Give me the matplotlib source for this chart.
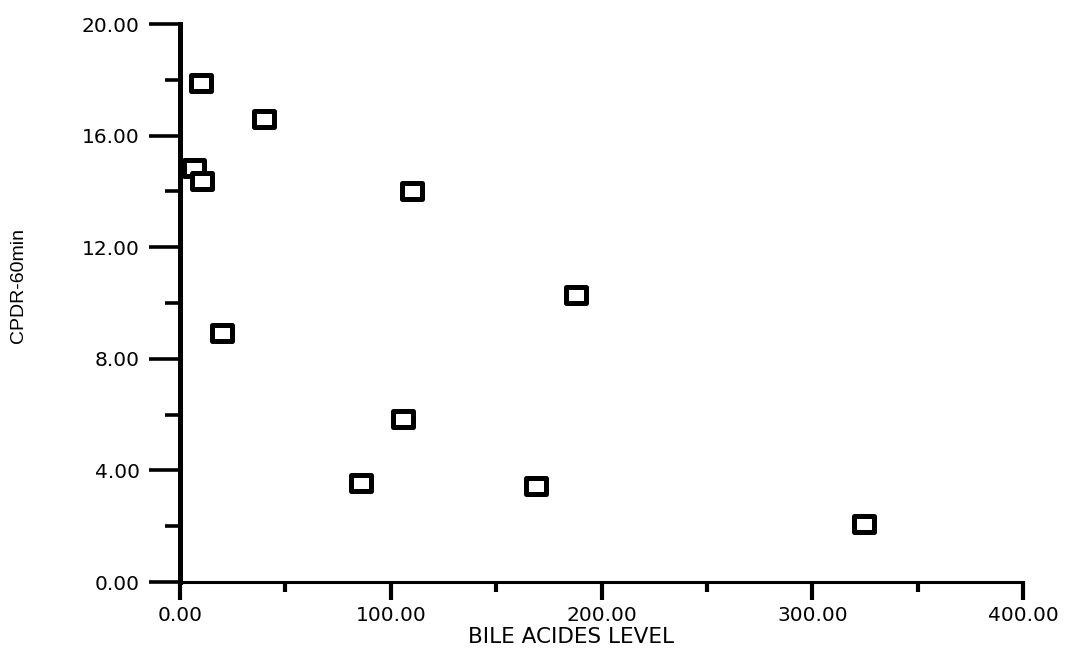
import matplotlib
matplotlib.use("Agg")
import matplotlib.pyplot as plt
from matplotlib.path import Path
from matplotlib.markers import MarkerStyle

# values
bile_acids = [10, 40, 6.6, 10.4, 110, 188, 20, 106, 86, 169, 324.5]
cpdr_60min = [17.9, 16.6, 14.84, 14.37, 14.0, 10.3, 8.92, 5.84, 3.55, 3.44, 2.08]

x_ticks = [0, 100, 200, 300, 400]
x_minor = [50, 150, 250, 350]
y_ticks = [0, 4, 8, 12, 16, 20]
y_minor = [2, 6, 10, 14, 18]

plt.rcParams['font.family'] = ['DejaVu Sans']

# wide open box marker, sharp corners
box = Path([(-1, -0.74), (1, -0.74), (1, 0.74), (-1, 0.74), (-1, -0.74)],
           [Path.MOVETO, Path.LINETO, Path.LINETO, Path.LINETO, Path.CLOSEPOLY])
box_marker = MarkerStyle(box, joinstyle='miter')

fig = plt.figure(figsize=(10.65, 6.49), dpi=100)
ax = fig.add_axes([0.169, 0.1032, 0.7916, 0.8598])

ax.plot(bile_acids, cpdr_60min, linestyle='none', marker=box_marker, markersize=15,
        markerfacecolor='white', markeredgecolor='black', markeredgewidth=3.6,
        clip_on=False, zorder=3)

ax.set_xlim(0, 400)
ax.set_ylim(0, 20)

ax.spines['top'].set_visible(False)
ax.spines['right'].set_visible(False)
ax.spines['left'].set_linewidth(3.6)
ax.spines['bottom'].set_linewidth(2.2)

ax.set_xticks(x_ticks)
ax.set_xticks(x_minor, minor=True)
ax.set_yticks(y_ticks)
ax.set_yticks(y_minor, minor=True)
ax.set_xticklabels(['%.2f' % v for v in x_ticks])
ax.set_yticklabels(['%.2f' % v for v in y_ticks])

ax.tick_params(axis='y', which='major', direction='out', length=22, width=2.6,
               pad=7, labelsize=14.5)
ax.tick_params(axis='y', which='minor', direction='out', length=11, width=2.6)
ax.tick_params(axis='x', which='major', direction='out', length=13, width=3,
               pad=4, labelsize=14.5)
ax.tick_params(axis='x', which='minor', direction='out', length=7, width=3)

ax.set_xlabel('BILE ACIDES LEVEL', fontsize=15.5)
ax.xaxis.set_label_coords(0.464, -0.081)
ax.set_ylabel('CPDR-60min', fontsize=14,
              family=['Liberation Sans Narrow', 'Liberation Sans', 'DejaVu Sans'])
ax.yaxis.set_label_coords(-0.181, 0.532)

fig.savefig('out.png', dpi=100)
